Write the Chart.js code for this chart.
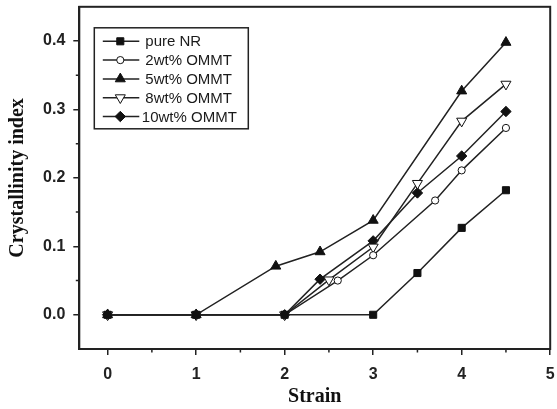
<!DOCTYPE html>
<html>
<head>
<meta charset="utf-8">
<script src="https://cdn.jsdelivr.net/npm/chart.js@4/dist/chart.umd.min.js"></script>
<style>
    html, body { margin: 0; padding: 0; background: #fff; }
    canvas { display: block; }
</style>
</head>
<body>
<canvas id="graficoCristalinidade" width="557" height="409"></canvas>
<script>
// valores (strain x crystallinity index)
const strainNR = [0, 1, 2, 3, 3.5, 4, 4.5];
const ciNR = [0, 0, 0, 0, 0.061, 0.127, 0.182];

const strain2 = [0, 1, 2, 2.6, 3, 3.7, 4, 4.5];
const ci2 = [0, 0, 0, 0.05, 0.087, 0.167, 0.211, 0.273];

const strain5 = [0, 1, 1.9, 2.4, 3, 4, 4.5];
const ci5 = [0, 0, 0.071, 0.092, 0.138, 0.327, 0.398];

const strain8 = [0, 1, 2, 2.5, 3, 3.5, 4, 4.5];
const ci8 = [0, 0, 0, 0.051, 0.099, 0.192, 0.283, 0.337];

const strain10 = [0, 1, 2, 2.4, 3, 3.5, 4, 4.5];
const ci10 = [0, 0, 0, 0.052, 0.108, 0.178, 0.232, 0.297];

const seriesNames = ['pure NR', '2wt% OMMT', '5wt% OMMT', '8wt% OMMT', '10wt% OMMT'];

const xTicks = [0, 1, 2, 3, 4, 5];
const yTicks = [0, 0.1, 0.2, 0.3, 0.4];
const xMinorTicks = [0.5, 1.5, 2.5, 3.5, 4.5];
const yMinorTicks = [0.05, 0.15, 0.25, 0.35];

const corLinha = '#222';

function pontos(xs, ys) {
    return xs.map((x, i) => ({ x: x, y: ys[i] }));
}

function serie(nome, xs, ys, estilo, raio, preenchido, rotacao) {
    return {
        label: nome,
        data: pontos(xs, ys),
        borderColor: corLinha,
        borderWidth: 1.5,
        pointStyle: estilo,
        pointRadius: raio,
        pointRotation: rotacao || 0,
        pointBackgroundColor: preenchido ? '#111' : '#fff',
        pointBorderColor: '#111',
        pointBorderWidth: 1,
        tension: 0,
        fill: false
    };
}

const datasets = [
    serie(seriesNames[0], strainNR, ciNR, 'rect', 5, true),
    serie(seriesNames[1], strain2, ci2, 'circle', 3.6, false),
    serie(seriesNames[2], strain5, ci5, 'triangle', 5.8, true),
    serie(seriesNames[3], strain8, ci8, 'triangle', 5.8, false, 180),
    serie(seriesNames[4], strain10, ci10, 'rectRot', 5.2, true)
];

// moldura, ticks menores e legenda com caixa
const molduraPlugin = {
    id: 'moldura',
    afterDraw(chart) {
        const ctx = chart.ctx;
        const a = chart.chartArea;
        const escX = chart.scales.x;
        const escY = chart.scales.y;

        ctx.save();
        ctx.strokeStyle = corLinha;
        ctx.lineWidth = 2;
        ctx.strokeRect(a.left, a.top, a.right - a.left, a.bottom - a.top);

        ctx.lineWidth = 1.5;
        ctx.beginPath();
        xMinorTicks.forEach(v => {
            const px = escX.getPixelForValue(v);
            ctx.moveTo(px, a.bottom);
            ctx.lineTo(px, a.bottom + 3.5);
        });
        yMinorTicks.forEach(v => {
            const py = escY.getPixelForValue(v);
            ctx.moveTo(a.left, py);
            ctx.lineTo(a.left - 3.5, py);
        });
        ctx.stroke();

        // legenda
        const lx = a.left + 15;
        const ly = a.top + 21;
        ctx.lineWidth = 1.5;
        ctx.strokeRect(lx, ly, 154, 101);

        ctx.font = '15px "Liberation Sans", Arial, sans-serif';
        ctx.textBaseline = 'middle';
        ctx.textAlign = 'left';
        chart.data.datasets.forEach((ds, i) => {
            const y = ly + 13.5 + i * 18.8;
            ctx.strokeStyle = corLinha;
            ctx.lineWidth = 1.5;
            ctx.beginPath();
            ctx.moveTo(lx + 8.5, y);
            ctx.lineTo(lx + 45, y);
            ctx.stroke();

            ctx.fillStyle = ds.pointBackgroundColor;
            ctx.strokeStyle = ds.pointBorderColor;
            ctx.lineWidth = ds.pointBorderWidth;
            Chart.helpers.drawPoint(ctx, {
                pointStyle: ds.pointStyle,
                rotation: ds.pointRotation,
                radius: ds.pointRadius,
                borderWidth: ds.pointBorderWidth
            }, lx + 26, y);

            ctx.fillStyle = '#1a1a1a';
            ctx.fillText(ds.label, i === 4 ? lx + 47.5 : lx + 51, y + 1);
        });
        ctx.restore();
    }
};

const fonteTicks = { family: '"Liberation Sans", Arial, sans-serif', size: 16, weight: 'bold' };
const fonteTitulo = { family: '"Liberation Serif", "Times New Roman", serif', size: 20, weight: 'bold' };

const ctxCristalinidade = document.getElementById('graficoCristalinidade').getContext('2d');

const graficoCristalinidade = new Chart(ctxCristalinidade, {
    type: 'line',
    data: { datasets: datasets },
    options: {
        responsive: false,
        animation: false,
        layout: { padding: { top: 5, right: 4.3, left: 0, bottom: 0 } },
        plugins: {
            legend: { display: false },
            tooltip: { enabled: false }
        },
        scales: {
            x: {
                type: 'linear',
                min: -0.32,
                max: 5,
                title: {
                    display: true,
                    text: 'Strain',
                    color: '#111',
                    font: fonteTitulo,
                    padding: { top: 0, bottom: 0 }
                },
                ticks: {
                    autoSkip: false,
                    maxRotation: 0,
                    padding: 10,
                    color: '#222',
                    font: fonteTicks,
                    callback: v => String(Math.round(v))
                },
                grid: {
                    drawOnChartArea: false,
                    tickLength: 6,
                    color: corLinha,
                    lineWidth: 1.5
                },
                border: { display: true, color: corLinha, width: 2 },
                afterBuildTicks: function (escala) {
                    escala.ticks = xTicks.map(v => ({ value: v }));
                },
                afterFit: function (escala) {
                    escala.height = 60;
                    escala.paddingLeft = 0;
                    escala.paddingRight = 0;
                }
            },
            y: {
                type: 'linear',
                min: -0.05,
                max: 0.45,
                title: {
                    display: true,
                    text: 'Crystallinity index',
                    color: '#111',
                    font: fonteTitulo,
                    padding: { top: 6, bottom: 0 }
                },
                ticks: {
                    autoSkip: false,
                    padding: 8,
                    color: '#222',
                    font: fonteTicks,
                    callback: v => v.toFixed(1)
                },
                grid: {
                    drawOnChartArea: false,
                    tickLength: 6,
                    color: corLinha,
                    lineWidth: 1.5
                },
                border: { display: true, color: corLinha, width: 2 },
                afterBuildTicks: function (escala) {
                    escala.ticks = yTicks.map(v => ({ value: v }));
                },
                afterFit: function (escala) {
                    escala.width = 79.3;
                    escala.paddingTop = 0;
                    escala.paddingBottom = 0;
                }
            }
        }
    },
    plugins: [molduraPlugin]
});
</script>
</body>
</html>
